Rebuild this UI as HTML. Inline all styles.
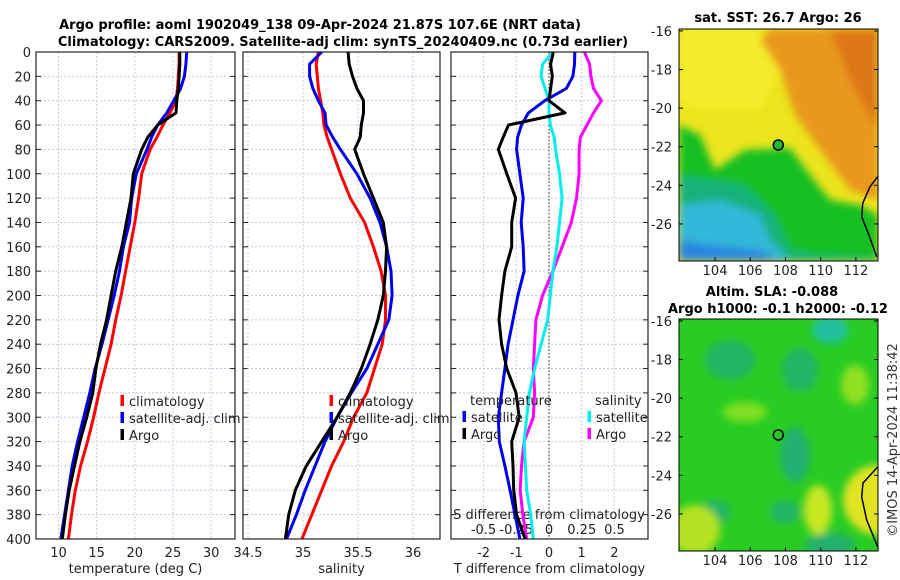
<!DOCTYPE html>
<html><head><meta charset="utf-8"><style>
html,body{margin:0;padding:0;background:#fff}
svg{display:block;font-family:"DejaVu Sans","Liberation Sans",sans-serif}
</style></head><body>
<svg id="fig" width="900" height="580" viewBox="0 0 900 580" xmlns="http://www.w3.org/2000/svg">
<defs>
<filter id="bl" x="-20%" y="-20%" width="140%" height="140%"><feGaussianBlur stdDeviation="4"/></filter>
<clipPath id="c1"><rect x="679" y="29" width="199" height="232"/></clipPath>
<clipPath id="c2"><rect x="679" y="319" width="199" height="232"/></clipPath>
</defs>
<g font-weight="bold" font-size="13" text-anchor="middle" fill="#000">
<text x="320" y="29">Argo profile: aoml 1902049_138 09-Apr-2024 21.87S 107.6E (NRT data)</text>
<text x="343" y="46">Climatology: CARS2009. Satellite-adj clim: synTS_20240409.nc (0.73d earlier)</text>
<text x="778" y="22">sat. SST: 26.7 Argo: 26</text>
<text x="772" y="296">Altim. SLA: -0.088</text>
<text x="778" y="313">Argo h1000: -0.1 h2000: -0.12</text>
</g>
<g id="maps">
<g clip-path="url(#c1)">
<rect x="679" y="29" width="199" height="232" fill="#ece41c"/>
<g filter="url(#bl)">
<polygon points="679,29 760,29 780,70 760,110 700,110 679,100" fill="#f2ec2a"/>
<polygon points="770,29 878,29 878,200 850,190 820,150 795,115 780,70 760,40" fill="#e9981e"/>
<polygon points="830,29 878,29 878,130 850,80" fill="#dd7612"/>
<polygon points="679,125 700,135 715,170 745,150 790,148 810,175 830,200 860,205 878,215 878,261 679,261" fill="#18c020"/>
<polygon points="679,175 745,185 775,215 790,250 820,255 878,258 878,261 679,261" fill="#14b27a"/>
<polygon points="679,205 720,200 760,215 770,240 790,261 679,261" fill="#30b8d8"/>
<polygon points="679,240 710,245 760,250 780,261 679,261" fill="#2a86e2"/>
</g>
<polyline points="877.7,176.7 870,186.7 862.7,203.3 861.7,216.7 868.3,233.3 876.7,256.7" fill="none" stroke="#000" stroke-width="1.5"/>
<circle cx="778.3" cy="145" r="5" fill="#18c020" stroke="#000" stroke-width="1.5"/>
</g>
<rect x="679" y="29" width="199" height="232" fill="none" stroke="#000"/>
<g clip-path="url(#c2)">
<rect x="679" y="319" width="199" height="232" fill="#28cc22"/>
<g filter="url(#bl)">
<ellipse cx="730" cy="360" rx="25" ry="20" fill="#22b566"/>
<ellipse cx="800" cy="370" rx="18" ry="22" fill="#22b566"/>
<ellipse cx="795" cy="455" rx="15" ry="28" fill="#22b070"/>
<ellipse cx="715" cy="512" rx="15" ry="12" fill="#22b566"/>
<ellipse cx="785" cy="512" rx="15" ry="12" fill="#22b566"/>
<ellipse cx="830" cy="545" rx="25" ry="12" fill="#22b070"/>
<ellipse cx="830" cy="330" rx="18" ry="14" fill="#20c0a0"/>
<ellipse cx="878" cy="500" rx="35" ry="35" fill="#e0e420"/>
<ellipse cx="818" cy="510" rx="14" ry="25" fill="#c8e820"/>
<ellipse cx="695" cy="530" rx="25" ry="25" fill="#b4e220"/>
<ellipse cx="855" cy="385" rx="14" ry="20" fill="#90e020"/>
<ellipse cx="745" cy="412" rx="22" ry="10" fill="#80e020"/>
</g>
<polyline points="877.7,467 863,483 861.7,497 866.7,520 877.7,547" fill="none" stroke="#000" stroke-width="1.5"/>
<circle cx="778.3" cy="435" r="5" fill="none" stroke="#000" stroke-width="1.5"/>
</g>
<rect x="679" y="319" width="199" height="232" fill="none" stroke="#000"/>
</g>
<text transform="translate(897,440) rotate(-90)" font-size="13" text-anchor="middle" fill="#333">©IMOS 14-Apr-2024 11:38:42</text>
<g id="plots"></g>
</svg>
<script>
const depthsA = [0,10,20,30,40,50,60,70,80,100,120,140,160,180,200,220,240,260,280,300,320,340,360,380,400];
const depthTicks = [0,20,40,60,80,100,120,140,160,180,200,220,240,260,280,300,320,340,360,380,400];
const tempTicks = [10,15,20,25,30];
const salTicks = [34.5,35,35.5,36];
const tdiffTicks = [-2,-1,0,1,2];
const sdiffTicks = [-0.5,-0.25,0,0.25,0.5];
const sdiffTickLabels = ["-0.5","-0.25","0","0.25","0.5"];
const tempClim = [25.8,25.8,25.7,25.6,25.4,24.6,23.7,22.9,22.0,20.9,20.5,20.0,19.4,18.8,18.2,17.5,16.9,16.1,15.3,14.6,13.8,12.9,12.2,11.7,11.3];
const tempSat  = [26.8,26.7,26.5,26.0,25.1,24.2,23.0,22.2,21.6,20.2,19.6,19.3,18.5,18.0,17.3,16.5,15.7,14.8,14.1,13.3,12.5,11.8,11.3,10.8,10.3];
const tempArgo = [25.9,25.9,25.8,25.7,25.5,25.4,23.0,21.7,20.9,19.8,19.5,18.9,18.3,17.5,16.9,16.3,15.5,14.9,14.5,13.7,12.8,12.1,11.4,10.9,10.5];
const salClim = [35.14,35.12,35.13,35.14,35.16,35.18,35.19,35.22,35.26,35.34,35.43,35.56,35.64,35.71,35.75,35.75,35.72,35.65,35.58,35.46,35.37,35.26,35.17,35.08,34.99];
const salSat  = [35.17,35.06,35.06,35.09,35.14,35.20,35.21,35.27,35.34,35.49,35.61,35.70,35.76,35.80,35.81,35.78,35.68,35.58,35.44,35.31,35.20,35.11,35.02,34.94,34.85];
const salArgo = [35.41,35.42,35.45,35.49,35.55,35.55,35.53,35.52,35.47,35.55,35.64,35.73,35.76,35.75,35.73,35.68,35.61,35.53,35.43,35.31,35.17,35.03,34.93,34.87,34.84];
const tdiffArgo = [0.13,0.05,0.1,0.05,0.0,0.49,-1.24,-1.4,-1.55,-1.29,-1.02,-1.14,-1.14,-1.35,-1.45,-1.53,-1.45,-1.29,-1.01,-0.91,-1.14,-1.1,-1.08,-0.99,-0.73];
const tdiffSat  = [0.79,0.78,0.73,0.53,-0.13,-0.63,-0.84,-0.96,-0.99,-0.89,-0.79,-0.85,-0.79,-0.76,-0.95,-1.1,-1.25,-1.35,-1.45,-1.55,-1.52,-1.35,-1.19,-1.04,-0.89];
const sdiffSat  = [0.03,-0.05,-0.06,-0.03,0.0,0.0,0.01,0.04,0.05,0.08,0.10,0.08,0.06,0.03,0.01,-0.01,-0.06,-0.11,-0.15,-0.17,-0.19,-0.18,-0.17,-0.14,-0.12];
const sdiffArgo = [0.27,0.31,0.32,0.34,0.40,0.34,0.29,0.24,0.23,0.23,0.21,0.17,0.10,0.03,-0.05,-0.10,-0.11,-0.12,-0.11,-0.12,-0.19,-0.21,-0.22,-0.20,-0.17];

const NS = "http://www.w3.org/2000/svg";
const root = document.getElementById("plots");
const TOP = 52, BOT = 539;
const yD = d => TOP + d * 1.2175;
const xT = v => 58.5 + (v - 10) * 7.63;
const xS = v => 303 + (v - 35) * 110;
const xDT = v => 549 + v * 32.7;
const xDS = v => 549 + v * 131;
function mk(tag, attrs, parent) {
  const e = document.createElementNS(NS, tag);
  for (const k in attrs) e.setAttribute(k, attrs[k]);
  (parent || root).appendChild(e);
  return e;
}
function txt(s, x, y, anchor, parent, size) {
  const t = mk("text", {x: x, y: y, "text-anchor": anchor, "font-size": size || 13, fill: "#222"}, parent);
  t.textContent = s;
  return t;
}
const panels = [
  {name: "temperature-panel", L: 36, R: 235, ticks: tempTicks, fx: xT, labels: tempTicks.map(String), title: "temperature (deg C)"},
  {name: "salinity-panel", L: 243, R: 440, ticks: salTicks, fx: xS, labels: ["34.5","35","35.5","36"], title: "salinity"},
  {name: "difference-panel", L: 451, R: 648, ticks: tdiffTicks, fx: xDT, labels: tdiffTicks.map(String), title: "T difference from climatology"}
];
panels.forEach((p, i) => {
  const g = mk("g", {});
  
  
  depthTicks.forEach(d => {
    const y = yD(d);
    mk("line", {x1: p.L, x2: p.R, y1: y, y2: y, stroke: "#c4c8e4", "stroke-width": 1, "stroke-dasharray": "2,2"}, g);
    mk("line", {x1: p.L, x2: p.L + 5, y1: y, y2: y, stroke: "#222"}, g);
    mk("line", {x1: p.R - 5, x2: p.R, y1: y, y2: y, stroke: "#222"}, g);
  });
  p.ticks.forEach((v, k) => {
    const x = p.fx(v);
    mk("line", {x1: x, x2: x, y1: TOP, y2: BOT, stroke: "#d0c8dc", "stroke-width": 1, "stroke-dasharray": "2,2"}, g);
    const lb = txt(p.labels[k], x, 557, "middle", g);
    
    
  });
  const at = txt(p.title, (p.L + p.R) / 2, 573, "middle", g);
  
  
  if (i === 0) {
    depthTicks.forEach(d => {
      const t = txt(String(d), 31, yD(d) + 5, "end", g);
      
      
    });
  }
});
// zero line in difference panel
const zl = mk("line", {x1: xDT(0), x2: xDT(0), y1: TOP, y2: BOT, stroke: "#555533", "stroke-width": 1.2, "stroke-dasharray": "1.5,2"});


// S diff inner axis labels
sdiffTicks.forEach((v, k) => {
  const t = txt(sdiffTickLabels[k], xDS(v), 534, "middle");
  
  
});
const sdt = txt("S difference from climatology", 549, 519, "middle");



function series(vals, fx, color, name) {
  const pts = vals.map((v, k) => fx(v).toFixed(1) + "," + yD(depthsA[k]).toFixed(1)).join(" ");
  const pl = mk("polyline", {points: pts, fill: "none", stroke: color, "stroke-width": 3, "stroke-linejoin": "round"});
  
  
}
series(tempClim, xT, "#ff0000", "temp-climatology-line");
series(tempSat, xT, "#0000ee", "temp-satellite-line");
series(tempArgo, xT, "#000000", "temp-argo-line");
series(salClim, xS, "#ff0000", "sal-climatology-line");
series(salSat, xS, "#0000ee", "sal-satellite-line");
series(salArgo, xS, "#000000", "sal-argo-line");
series(sdiffArgo, xDS, "#ff00ff", "sdiff-argo-line");
series(sdiffSat, xDS, "#00eeee", "sdiff-satellite-line");
series(tdiffSat, xDT, "#0000ee", "tdiff-satellite-line");
series(tdiffArgo, xDT, "#000000", "tdiff-argo-line");

// borders
panels.forEach(p => {
  mk("rect", {x: p.L, y: TOP, width: p.R - p.L, height: BOT - TOP, fill: "none", stroke: "#222", "stroke-width": 1.2});
});

function legendRow(x, y, color, label, name) {
  const g = mk("g", {});
  
  
  mk("rect", {x: x - 1.5, y: y - 11, width: 3.5, height: 11, fill: color}, g);
  txt(label, x + 7, y, "start", g);
}
[[122, "climatology", "#ff0000"], [122, "satellite-adj. clim", "#0000ee"], [122, "Argo", "#000"]].forEach((r, k) => legendRow(r[0], 406 + k * 17, r[2], r[1], "legend-entry"));
[[331, "climatology", "#ff0000"], [331, "satellite-adj. clim", "#0000ee"], [331, "Argo", "#000"]].forEach((r, k) => legendRow(r[0], 406 + k * 17, r[2], r[1], "legend-entry"));
const lt = txt("temperature", 470, 405, "start");


const ls = txt("salinity", 595, 405, "start");


legendRow(464, 422, "#0000ee", "satellite", "legend-entry");
legendRow(464, 439, "#000", "Argo", "legend-entry");
legendRow(589, 422, "#00eeee", "satellite", "legend-entry");
legendRow(589, 439, "#ff00ff", "Argo", "legend-entry");

// map ticks
const mapLat = [-16,-18,-20,-22,-24,-26];
const mapLon = [104,106,108,110,112];
const lonX = v => 679 + (v - 101.95) * 17.6;
[[29, 275], [319, 565]].forEach((m, mi) => {
  mapLat.forEach(v => {
    const y = m[0] + (-15.9 - v) * 19.3;
    mk("line", {x1: 679, x2: 683, y1: y, y2: y, stroke: "#000"});
    mk("line", {x1: 874, x2: 878, y1: y, y2: y, stroke: "#000"});
    const t = txt(String(v), 672, y + 5, "end");
    
    
  });
  mapLon.forEach(v => {
    const x = lonX(v);
    mk("line", {x1: x, x2: x, y1: m[0] + 232, y2: m[0] + 228, stroke: "#000"});
    const t = txt(String(v), x, m[1], "middle");
    
    
  });
});
</script>
</body></html>
